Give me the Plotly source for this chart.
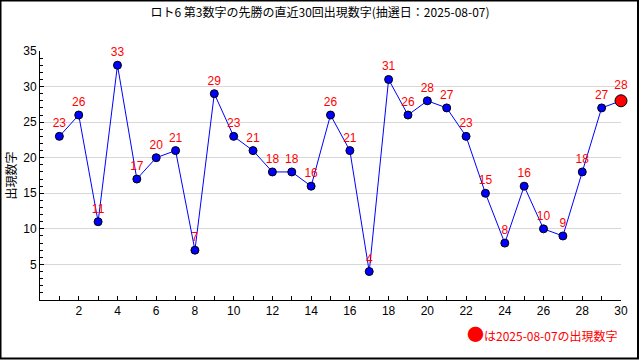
import plotly.graph_objects as go

draws = list(range(1, 31))
values = [23, 26, 11, 33, 17, 20, 21, 7, 29, 23, 21, 18, 18, 16, 26, 21, 4, 31,
          26, 28, 27, 23, 15, 8, 16, 10, 9, 18, 27, 28]
x_ticks = list(range(2, 31, 2))
y_ticks = [5, 10, 15, 20, 25, 30, 35]
title_text = "ロト6 第3数字の先勝の直近30回出現数字(抽選日：2025-08-07)"
y_title = "出現数字"
note_text = "<span style='font-size:17px'>●</span>は2025-08-07の出現数字"

L, R, T, B = 40, 19, 51, 60
W, H = 640, 360
pw, ph = W - L - R, H - T - B

fig = go.Figure()
fig.add_trace(go.Scatter(
    x=draws, y=values, mode="lines+markers+text",
    line=dict(color="#0000ff", width=1),
    marker=dict(color=["#0000ff"] * 29 + ["#ff0000"], size=[8] * 29 + [12],
                opacity=1, line=dict(color="black", width=1)),
    text=[str(v) for v in values], textposition="top center",
    textfont=dict(color="#ff0000", size=12, family="Liberation Sans, Arial"),
    cliponaxis=False, showlegend=False,
))

def px(x):
    return (x - L) / pw

def py(y):
    return (H - B - y) / ph

fig.add_shape(type="rect", xref="paper", yref="paper",
              x0=px(0.5), x1=px(638), y0=py(0.5), y1=py(358.5),
              line=dict(color="black", width=2), layer="below")

fig.update_layout(
    width=W, height=H, margin=dict(l=L, r=R, t=T, b=B, autoexpand=False),
    paper_bgcolor="white", plot_bgcolor="white",
    font=dict(family="Liberation Sans, Arial", size=11, color="black"),
    title=dict(text=title_text, x=0.5, xref="container", xanchor="center",
               y=1 - 13 / H, yref="container", yanchor="middle",
               font=dict(family="Noto Sans CJK JP", size=12, color="black")),
    xaxis=dict(range=[0, 30], tickmode="array", tickvals=x_ticks,
               showgrid=False, zeroline=False, showline=True, linecolor="black",
               linewidth=1, ticks="inside", ticklen=4, tickcolor="black",
               minor=dict(dtick=1, tick0=0, ticks="inside", ticklen=4, tickcolor="black"),
               tickfont=dict(size=12), automargin=False),
    yaxis=dict(range=[0, 35], tickmode="array", tickvals=y_ticks,
               showgrid=True, gridcolor="#d8d8d8", zeroline=False, showline=True,
               linecolor="black", linewidth=1, ticks="inside", ticklen=4, tickcolor="black",
               minor=dict(dtick=1, tick0=0, ticks="inside", ticklen=3, tickcolor="black",
                          showgrid=False),
               tickfont=dict(size=12), automargin=False,
               title=dict(text=y_title, standoff=4,
                          font=dict(family="Noto Sans CJK JP", size=12))),
    annotations=[dict(text=note_text, xref="paper", yref="paper",
                      x=px(620), y=py(333), xanchor="right", yanchor="middle",
                      showarrow=False,
                      font=dict(family="Noto Sans CJK JP", size=12, color="#ff0000"))],
)

fig.write_html("out.html", config={"displayModeBar": False},
               post_script="document.body.style.margin='0';document.body.style.overflow='hidden';")
